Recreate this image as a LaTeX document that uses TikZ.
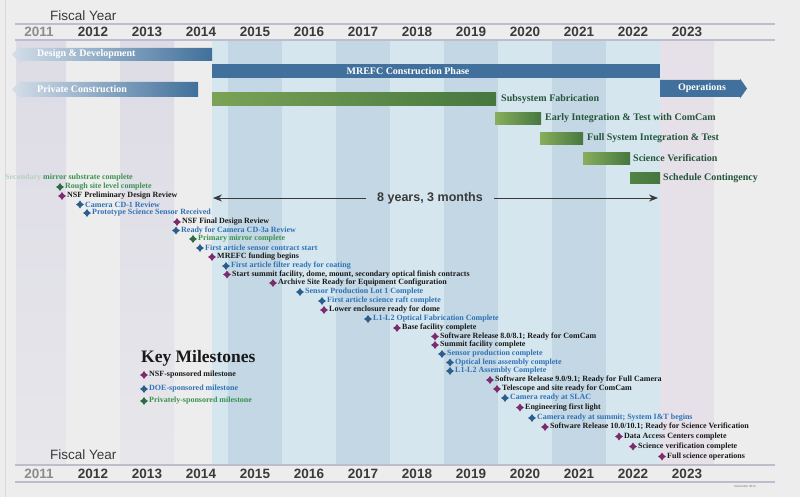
\documentclass[tikz,border=0pt]{standalone}
\usepackage{fontspec}
\setmainfont{Liberation Serif}
\newfontfamily\yearfont{Liberation Sans}
\usetikzlibrary{shapes.geometric,arrows.meta}
\definecolor{bg}{HTML}{EDEDEE}
\definecolor{leftdark}{HTML}{DDDCE6}
\definecolor{bluel}{HTML}{D5E6EF}
\definecolor{blued}{HTML}{C3D7E4}
\definecolor{col23}{HTML}{E6E0E9}
\definecolor{hline}{HTML}{BEBDCD}
\definecolor{barblue}{HTML}{40709B}
\definecolor{barfade}{HTML}{D3DEE8}
\definecolor{gl}{HTML}{88AE5D}
\definecolor{gd}{HTML}{46773F}
\definecolor{lblgreen}{HTML}{26553A}
\definecolor{nsfmk}{HTML}{7B2C6C}
\definecolor{nsftx}{HTML}{1A1A1A}
\definecolor{doemk}{HTML}{2B5E8C}
\definecolor{doetx}{HTML}{2F72B5}
\definecolor{pvtmk}{HTML}{2E6B45}
\definecolor{pvttx}{HTML}{3A9150}
\definecolor{yrgray}{HTML}{3A3A3A}
\newcommand\mstone[5]{%
  \node[msmark,fill=#4mk] (m#1) at (#2,#3) {};
  \node[mtext,text=#4tx] (t#1) at (#2+5,#3) {#5};}
\begin{document}
\begin{tikzpicture}[x=1pt,y=-1pt,
  yr/.style={font=\yearfont\bfseries\fontsize{13.5}{14}\selectfont, text=yrgray, inner sep=0},
  fy/.style={font=\yearfont\fontsize{13.5}{14}\selectfont, text=yrgray, inner sep=0, anchor=west},
  msmark/.style={star, star points=4, star point ratio=1.7, minimum size=8pt, inner sep=0, draw=none},
  mtext/.style={font=\bfseries\fontsize{8}{9}\selectfont, anchor=west, inner sep=0},
  barlbl/.style={font=\bfseries\fontsize{10}{12}\selectfont, text=lblgreen, anchor=west, inner sep=0},
  whitelbl/.style={font=\bfseries\fontsize{10}{12}\selectfont, text=white, inner sep=0},
  hl/.style={draw=hline, line width=1.3pt}]
\useasboundingbox (0,0) rectangle (800,497);
\fill[bg] (0,0) rectangle (800,497);
\draw[black!15, line width=0.6pt] (5,0) -- (5,497);
% background columns
\shade[top color=leftdark, bottom color=leftdark!40!bg] (16,40) rectangle (66,465);
\shade[top color=leftdark, bottom color=leftdark!40!bg] (120,40) rectangle (174,465);
\fill[bluel] (212,40) rectangle (660,465);
\foreach \a in {228,336,444,552} \fill[blued] (\a,40) rectangle (\a+54,465);
\fill[col23] (660,40) rectangle (714,465);
% lines
\draw[hl] (15,24) -- (775,24);
\draw[hl] (15,40) -- (775,40);
\draw[hl] (15,465) -- (775,465);
\draw[hl] (15,482) -- (775,482);
% fiscal year labels
\node[fy] (fytop) at (50,16) {Fiscal Year};
\node[fy] (fybot) at (50,455) {Fiscal Year};
\foreach \yv [count=\i from 0] in {2011,...,2023} {
  \ifnum\yv=2011
    \node[yr,text=black!45] (ya\yv) at (39+54*\i,32) {\yv};
    \node[yr,text=black!45] (yb\yv) at (39+54*\i,474) {\yv};
  \else
    \node[yr] (ya\yv) at (39+54*\i,32) {\yv};
    \node[yr] (yb\yv) at (39+54*\i,474) {\yv};
  \fi
}
% blue phase bars
\shade[left color=barfade, right color=barblue] (12,54.5) -- (21,45.5) -- (21,48) -- (212,48) -- (212,61) -- (21,61) -- (21,63.5) -- cycle;
\node[whitelbl,anchor=west] (dd) at (37,54.5) {Design \& Development};
\fill[barblue] (212,64) rectangle (660,78);
\node[whitelbl] (mrefc) at (408,71) {MREFC Construction Phase};
\shade[left color=barfade, right color=barblue] (12,89.5) -- (21,80.5) -- (21,82) -- (198,82) -- (198,97) -- (21,97) -- (21,98.5) -- cycle;
\node[whitelbl,anchor=west] (pc) at (37,89.5) {Private Construction};
\fill[barblue] (660,80) -- (740,80) -- (740,78.5) -- (747,88.5) -- (740,98.5) -- (740,97) -- (660,97) -- cycle;
\node[whitelbl] (ops) at (702,88.5) {Operations};
% green bars
\shade[left color=gl!80!gd, right color=gd] (212,93) rectangle (496,106);
\node[barlbl] (sf) at (501,99.5) {Subsystem Fabrication};
\shade[left color=gl, right color=gd] (495,112.5) rectangle (541,125);
\node[barlbl] (ei) at (545,118.5) {Early Integration \& Test with ComCam};
\shade[left color=gl, right color=gd] (540,132.5) rectangle (583,145);
\node[barlbl] (fs) at (587,138.5) {Full System Integration \& Test};
\shade[left color=gl, right color=gd] (583,152.5) rectangle (630,164.5);
\node[barlbl] (sv) at (633,158) {Science Verification};
\shade[left color=gd!80!gl, right color=gd] (630,172.5) rectangle (660,184);
\node[barlbl] (sc) at (663,178) {Schedule Contingency};
% 8 years arrow
\coordinate (arrL) at (213,198);
\coordinate (arrR) at (658,198);
\node[font=\yearfont\bfseries\fontsize{12.5}{14}\selectfont, text=yrgray, inner xsep=11pt, inner ysep=0] (yrs) at (430,198) {8 years, 3 months};
\draw[yrgray, line width=0.8pt, -{Stealth[length=9pt,width=7pt]}] (yrs.west) -- (arrL);
\draw[yrgray, line width=0.8pt, -{Stealth[length=9pt,width=7pt]}] (yrs.east) -- (arrR);
% milestones
\node[mtext,text=pvttx] (t0) at (5,178) {\textcolor{pvttx!30!bg}{Secondary} mirror substrate complete};
\mstone{1}{60}{187}{pvt}{Rough site level complete}
\mstone{2}{62}{196}{nsf}{NSF Preliminary Design Review}
\mstone{3}{80}{204.5}{doe}{Camera CD-1 Review}
\mstone{4}{87}{213}{doe}{Prototype Science Sensor Received}
\mstone{5}{177}{222}{nsf}{NSF Final Design Review}
\mstone{6}{176}{230.5}{doe}{Ready for Camera CD-3a Review}
\mstone{7}{193}{239}{pvt}{Primary mirror complete}
\mstone{8}{200}{248}{doe}{First article sensor contract start}
\mstone{9}{212}{257}{nsf}{MREFC funding begins}
\mstone{10}{226}{266}{doe}{First article filter ready for coating}
\mstone{11}{227}{274.5}{nsf}{Start summit facility, dome, mount, secondary optical finish contracts}
\mstone{12}{273}{283}{nsf}{Archive Site Ready for Equipment Configuration}
\mstone{13}{300}{292}{doe}{Sensor Production Lot 1 Complete}
\mstone{14}{322}{301}{doe}{First article science raft complete}
\mstone{15}{324}{310}{nsf}{Lower enclosure ready for dome}
\mstone{16}{368}{319}{doe}{L1-L2 Optical Fabrication Complete}
\mstone{17}{397}{328}{nsf}{Base facility complete}
\mstone{18}{435}{336.5}{nsf}{Software Release 8.0/8.1; Ready for ComCam}
\mstone{19}{435}{345}{nsf}{Summit facility complete}
\mstone{20}{442}{354}{doe}{Sensor production complete}
\mstone{21}{450}{362.5}{doe}{Optical lens assembly complete}
\mstone{22}{450}{371}{doe}{L1-L2 Assembly Complete}
\mstone{23}{490}{380}{nsf}{Software Release 9.0/9.1; Ready for Full Camera}
\mstone{24}{497}{389}{nsf}{Telescope and site ready for ComCam}
\mstone{25}{505}{398}{doe}{Camera ready at SLAC}
\mstone{26}{520}{407.5}{nsf}{Engineering first light}
\mstone{27}{532}{418}{doe}{Camera ready at summit; System I\&T begins}
\mstone{28}{545}{427}{nsf}{Software Release 10.0/10.1; Ready for Science Verification}
\mstone{29}{619}{436.5}{nsf}{Data Access Centers complete}
\mstone{30}{633}{446.5}{nsf}{Science verification complete}
\mstone{31}{662}{456.5}{nsf}{Full science operations}
% legend
\node[font=\bfseries\fontsize{17.5}{20}\selectfont, text=black!90, anchor=west, inner sep=0] (key) at (141,358) {Key Milestones};
\mstone{L1}{144}{375}{nsf}{NSF-sponsored milestone}
\mstone{L2}{144}{389}{doe}{DOE-sponsored milestone}
\mstone{L3}{144}{401}{pvt}{Privately-sponsored milestone}
\node[font=\yearfont\fontsize{3}{3.5}\selectfont, text=black!55, inner sep=0] (nov) at (745,486) {November 2013};
\end{tikzpicture}
\end{document}
